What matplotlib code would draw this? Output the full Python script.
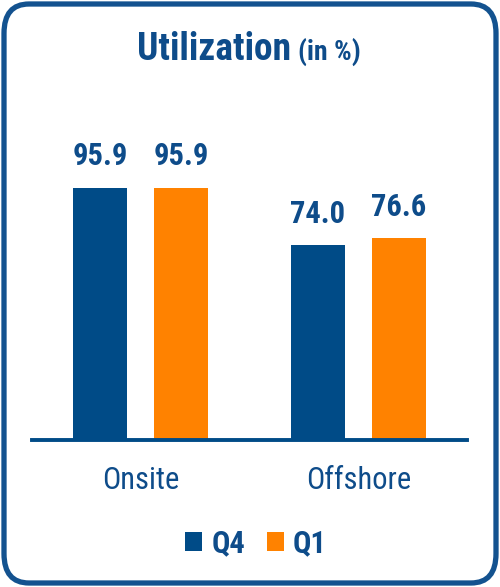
import matplotlib
matplotlib.use("Agg")
import matplotlib.pyplot as plt
from matplotlib.patches import FancyBboxPatch, Patch
from matplotlib import font_manager
import numpy as np

categories = ["Onsite", "Offshore"]
series_names = ["Q4", "Q1"]
q4_values = [95.9, 74.0]
q1_values = [95.9, 76.6]
title_main = "Utilization"
title_sub = "(in %)"

BLUE = "#004B87"
ORANGE = "#FF8200"
TEXT = "#0E4C8A"
BORDER = "#13528F"

fl = font_manager.fontManager.ttflist
def has_bold(name):
    return any(f.name == name and (f.weight in ("bold", 700) or (isinstance(f.weight, int) and f.weight >= 700)) for f in fl)

narrow = "Liberation Sans"
for cand in ("Liberation Sans Narrow", "Arial Narrow", "Roboto Condensed",
             "PT Sans Narrow", "Archivo Narrow", "Fira Sans Condensed",
             "IBM Plex Sans Condensed", "Encode Sans Condensed", "Asap Condensed",
             "Barlow Semi Condensed"):
    if has_bold(cand):
        narrow = cand
        break
plt.rcParams["font.family"] = [narrow, "DejaVu Sans"]

W, H = 500, 587
fig = plt.figure(figsize=(W / 100, H / 100), dpi=100)

border = FancyBboxPatch((4 / W, 4 / H), (W - 8) / W, (H - 8) / H,
                        boxstyle="round,pad=0,rounding_size=0.05",
                        transform=fig.transFigure, facecolor="none",
                        edgecolor=BORDER, linewidth=3.8, zorder=-10)
fig.patches.append(border)

base_y = 439.5
top_y = 100
ax = fig.add_axes([32 / W, (H - base_y) / H, 435 / W, (base_y - top_y) / H])
ax.patch.set_alpha(0)
px_per_unit = 252 / 95.9
ax.set_ylim(0, (base_y - top_y) / px_per_unit)
ax.set_xlim(-0.5, 1.5)

x = np.arange(len(categories))
bw = 0.248
off = 0.186
b1 = ax.bar(x - off, q4_values, bw, color=BLUE, label=series_names[0], zorder=2)
b2 = ax.bar(x + off, q1_values, bw, color=ORANGE, label=series_names[1], zorder=2)

for bars, vals in ((b1, q4_values), (b2, q1_values)):
    for r, v in zip(bars, vals):
        ax.annotate(f"{v:.1f}", (r.get_x() + r.get_width() / 2, v),
                    xytext=(0, 16), textcoords="offset points",
                    ha="center", va="baseline", fontsize=22,
                    fontweight="bold", color=TEXT)

for s in ["top", "right", "left"]:
    ax.spines[s].set_visible(False)
ax.spines["bottom"].set_color(BLUE)
ax.spines["bottom"].set_linewidth(2.8)
ax.set_yticks([])
ax.set_xticks(x)
ax.set_xticklabels(categories, fontsize=22, color=TEXT, fontweight="normal")
ax.tick_params(axis="x", length=0, pad=19)

t1 = fig.text(137 / W, 1 - 60 / H, title_main, fontsize=27, fontweight="bold",
              color=TEXT, ha="left", va="baseline")
fig.canvas.draw()
ax.annotate(title_sub, xy=(1, 0), xycoords=t1, xytext=(5, 1.5),
            textcoords="offset points", fontsize=20, fontweight="bold",
            color=TEXT, ha="left", va="bottom", annotation_clip=False)

handles = [Patch(facecolor=BLUE, edgecolor="none"), Patch(facecolor=ORANGE, edgecolor="none")]
fig.legend(handles, series_names, loc="center", bbox_to_anchor=(256 / W, 1 - 543 / H),
           ncol=2, frameon=False, labelcolor=TEXT,
           prop={"family": [narrow, "DejaVu Sans"], "weight": "bold", "size": 22},
           handlelength=0.56, handleheight=0.56, handletextpad=0.3,
           columnspacing=0.7, borderpad=0)

fig.savefig("out.png", dpi=100)
